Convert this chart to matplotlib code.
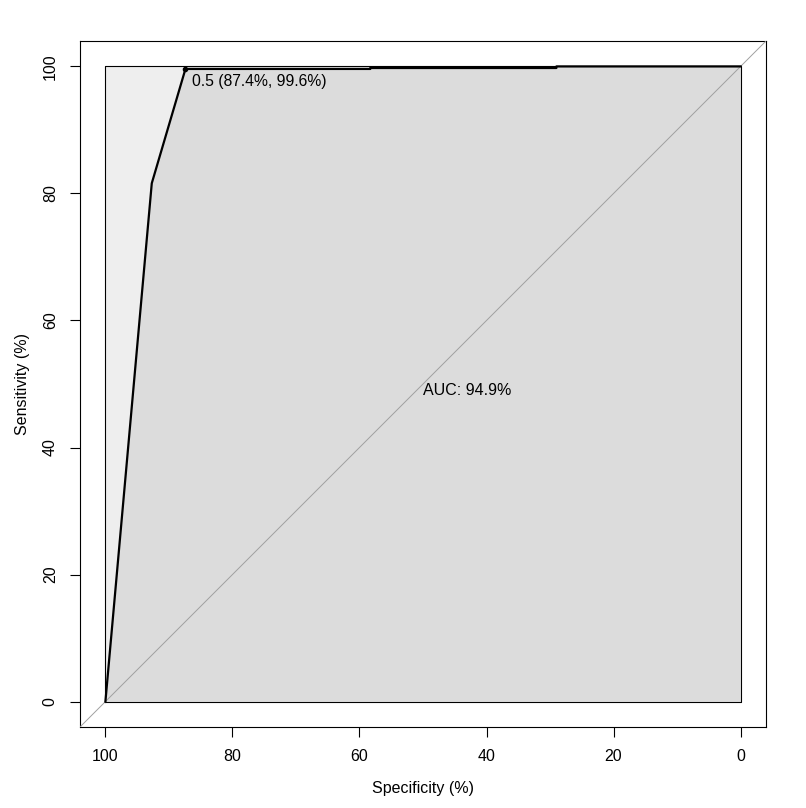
import matplotlib
matplotlib.use("Agg")
import matplotlib.pyplot as plt

plt.rcParams['font.family'] = ['Liberation Sans', 'DejaVu Sans']

# ROC curve points (specificity %, sensitivity %)
spec = [100, 92.7, 87.4, 58.3, 58.3, 29.0, 29.0, 0]
sens = [0, 81.6, 99.6, 99.6, 99.75, 99.75, 100, 100]
thr_label = "0.5 (87.4%, 99.6%)"
thr_spec, thr_sens = 87.4, 99.6
auc_text = "AUC: 94.9%"
xticks = [100, 80, 60, 40, 20, 0]
yticks = [0, 20, 40, 60, 80, 100]

W, H = 806, 808
fig = plt.figure(figsize=(W / 100, H / 100), dpi=100)
ax = fig.add_axes([80 / W, 1 - 727 / H, (766 - 80) / W, (727 - 41) / H])
ax.set_xlim(104, -4)
ax.set_ylim(-4, 104)

# max AUC polygon
ax.fill([100, 100, 0, 0], [0, 100, 100, 0], facecolor='#EEEEEE', edgecolor='none', zorder=1)
# AUC polygon
ax.fill(spec + [0, 100], sens + [0, 0], facecolor='#DCDCDC', edgecolor='none', zorder=2)
ax.plot([100, 100, 0, 0, 100], [0, 100, 100, 0, 0], color='black', lw=0.8, zorder=3)

# identity line
ax.plot([104, -4], [-4, 104], color='#A0A0A0', lw=0.7, zorder=3)

# ROC curve
ax.plot(spec, sens, color='black', lw=1.6, zorder=4)
ax.plot([thr_spec], [thr_sens], 'o', color='black', ms=3, zorder=5)
ax.text(thr_spec - 1.0, thr_sens - 0.8, thr_label, ha='left', va='top', fontsize=11.3, zorder=6)
ax.text(50, 50.1, auc_text, ha='left', va='top', fontsize=11.5, zorder=6)

ax.set_xticks(xticks)
ax.set_yticks(yticks)
ax.set_yticklabels([str(t) for t in yticks], rotation=90, va='center')
ax.tick_params(axis='both', direction='out', length=7, width=0.8, labelsize=11.5, pad=9)
for s in ax.spines.values():
    s.set_linewidth(0.8)
ax.set_xlabel("Specificity (%)", fontsize=11.5, labelpad=12)
ax.set_ylabel("Sensitivity (%)", fontsize=11.5, labelpad=9)

fig.savefig("out.png", dpi=100)
